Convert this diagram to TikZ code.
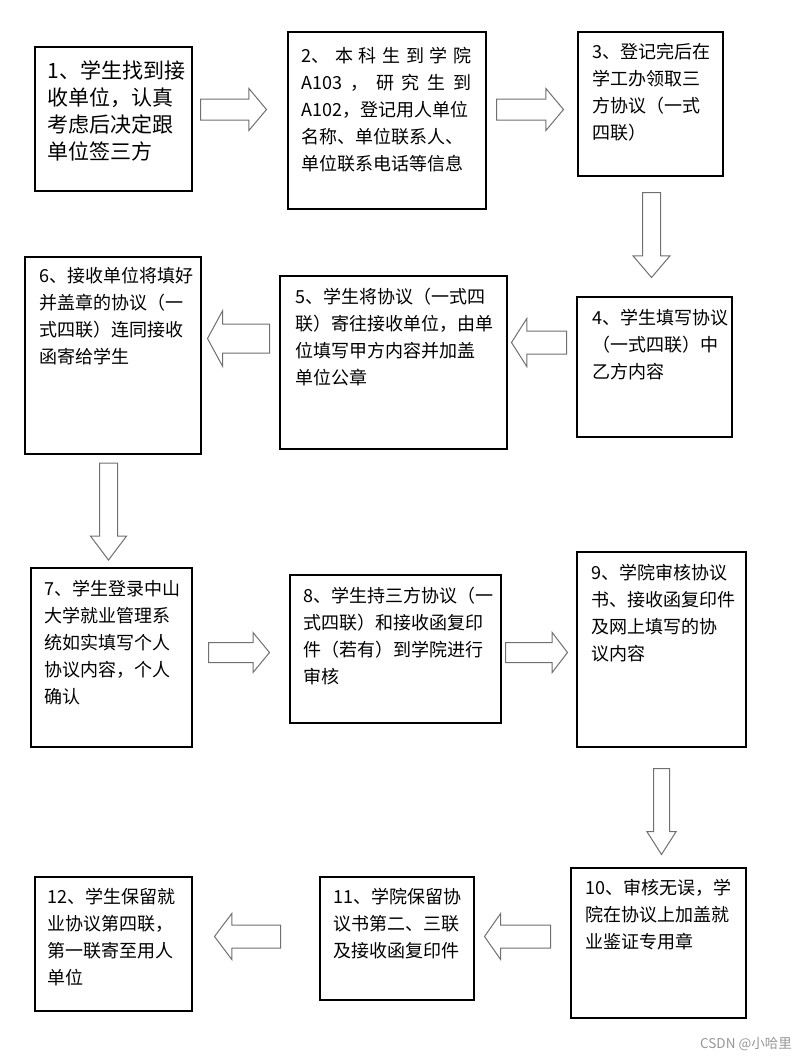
\documentclass[tikz,border=0pt]{standalone}
\usepackage{fontspec}
\setmainfont{Noto Sans CJK SC}
\usepackage{tikz}
\usepackage{xcolor}
\usetikzlibrary{shapes.arrows}
\definecolor{flowline}{RGB}{0,0,0}
\definecolor{flowarrow}{RGB}{112,112,112}
\definecolor{flowmark}{RGB}{150,150,150}
\newcommand{\stepfont}{\fontsize{18}{27}\selectfont}
\newcommand{\stepfontbig}{\fontsize{21}{27}\selectfont}
\tikzset{
  stepbox/.style={draw=flowline, line width=1.3pt, inner sep=0pt},
  steptext/.style={anchor=north west, inner sep=0pt, align=left, font=\stepfont},
  blockarrow/.style={single arrow, draw=flowarrow, line width=1pt, fill=white, anchor=tail, inner xsep=0pt, single arrow head indent=0pt}
}

\begin{document}
\begin{tikzpicture}[x=1pt, y=-1pt]
  \useasboundingbox (0,0) rectangle (808,1060);
  \node[stepbox, minimum width=157pt, minimum height=144pt] (s1) at (113.5,119) {};
  \node[stepbox, minimum width=198pt, minimum height=177pt] (s2) at (387,120.5) {};
  \node[stepbox, minimum width=145pt, minimum height=144pt] (s3) at (650.5,104) {};
  \node[stepbox, minimum width=155pt, minimum height=140pt] (s4) at (654.5,367) {};
  \node[stepbox, minimum width=227pt, minimum height=173pt] (s5) at (393.5,362.5) {};
  \node[stepbox, minimum width=176pt, minimum height=197pt] (s6) at (113,355.5) {};
  \node[stepbox, minimum width=161pt, minimum height=179pt] (s7) at (111.5,657.5) {};
  \node[stepbox, minimum width=211pt, minimum height=148pt] (s8) at (395.5,649) {};
  \node[stepbox, minimum width=169pt, minimum height=195pt] (s9) at (661.5,649.5) {};
  \node[stepbox, minimum width=175pt, minimum height=150pt] (s10) at (658.5,943) {};
  \node[stepbox, minimum width=154pt, minimum height=123pt] (s11) at (397,938.5) {};
  \node[stepbox, minimum width=157pt, minimum height=134pt] (s12) at (113.5,944) {};

  \node[steptext, font=\stepfontbig] (t1) at ([shift={(13pt,-14pt)}]s1.north west) {1、学生找到接\\收单位，认真\\考虑后决定跟\\单位签三方};
  \node[steptext] (t2) at ([shift={(14pt,-16pt)}]s2.north west) {\makebox[170pt][s]{2、\hfill 本\hfill 科\hfill 生\hfill 到\hfill 学\hfill 院}\\\makebox[170pt][s]{A103\hfill ，\hfill 研\hfill 究\hfill 生\hfill 到}\\A102，登记用人单位\\名称、单位联系人、\\单位联系电话等信息};
  \node[steptext] (t3) at ([shift={(15pt,-12pt)}]s3.north west) {3、登记完后在\\学工办领取三\\方协议（一式\\四联）};
  \node[steptext] (t4) at ([shift={(16pt,-13pt)}]s4.north west) {4、学生填写协议\\（一式四联）中\\乙方内容};
  \node[steptext] (t5) at ([shift={(16pt,-13pt)}]s5.north west) {5、学生将协议（一式四\\联）寄往接收单位，由单\\位填写甲方内容并加盖\\单位公章};
  \node[steptext] (t6) at ([shift={(15pt,-11pt)}]s6.north west) {6、接收单位将填好\\并盖章的协议（一\\式四联）连同接收\\函寄给学生};
  \node[steptext] (t7) at ([shift={(14pt,-13pt)}]s7.north west) {7、学生登录中山\\大学就业管理系\\统如实填写个人\\协议内容，个人\\确认};
  \node[steptext] (t8) at ([shift={(14pt,-13pt)}]s8.north west) {8、学生持三方协议（一\\式四联）和接收函复印\\件（若有）到学院进行\\审核};
  \node[steptext] (t9) at ([shift={(15pt,-13pt)}]s9.north west) {9、学院审核协议\\书、接收函复印件\\及网上填写的协\\议内容};
  \node[steptext] (t10) at ([shift={(15pt,-12pt)}]s10.north west) {10、审核无误，学\\院在协议上加盖就\\业鉴证专用章};
  \node[steptext] (t11) at ([shift={(14pt,-12pt)}]s11.north west) {11、学院保留协\\议书第二、三联\\及接收函复印件};
  \node[steptext] (t12) at ([shift={(13pt,-12pt)}]s12.north west) {12、学生保留就\\业协议第四联，\\第一联寄至用人\\单位};

  \node[blockarrow, minimum height=66pt, inner ysep=10pt, single arrow head extend=10.5pt, single arrow tip angle=100] (a12) at (200,109.5) {};
  \node[blockarrow, minimum height=67pt, inner ysep=10pt, single arrow head extend=10.5pt, single arrow tip angle=100] (a23) at (496,109.5) {};
  \node[blockarrow, rotate=270, minimum height=85pt, inner ysep=8.5pt, single arrow head extend=9.5pt, single arrow tip angle=81] (a34) at (651.5,192) {};
  \node[blockarrow, rotate=180, minimum height=55pt, inner ysep=11pt, single arrow head extend=12.5pt, single arrow tip angle=115] (a45) at (567,342.5) {};
  \node[blockarrow, rotate=180, minimum height=62pt, inner ysep=14pt, single arrow head extend=13.5pt, single arrow tip angle=123] (a56) at (270,338.5) {};
  \node[blockarrow, rotate=270, minimum height=97pt, inner ysep=8.5pt, single arrow head extend=9pt, single arrow tip angle=74] (a67) at (108.5,462.5) {};
  \node[blockarrow, minimum height=61pt, inner ysep=9.5pt, single arrow head extend=10pt, single arrow tip angle=101] (a78) at (208,652.5) {};
  \node[blockarrow, minimum height=62pt, inner ysep=9.5pt, single arrow head extend=10pt, single arrow tip angle=105] (a89) at (505,652.5) {};
  \node[blockarrow, rotate=270, minimum height=86pt, inner ysep=7.5pt, single arrow head extend=6.5pt, single arrow tip angle=65] (a910) at (661.5,768) {};
  \node[blockarrow, rotate=180, minimum height=66pt, inner ysep=11pt, single arrow head extend=11.5pt, single arrow tip angle=110] (a1011) at (551,936.5) {};
  \node[blockarrow, rotate=180, minimum height=66pt, inner ysep=11pt, single arrow head extend=11.5pt, single arrow tip angle=106] (a1112) at (281,936.5) {};

  \node[anchor=east, inner sep=0pt, text=flowmark, font=\fontsize{13.5}{13.5}\selectfont] (mark) at (792,1044) {CSDN @小哈里};
\end{tikzpicture}
\end{document}
